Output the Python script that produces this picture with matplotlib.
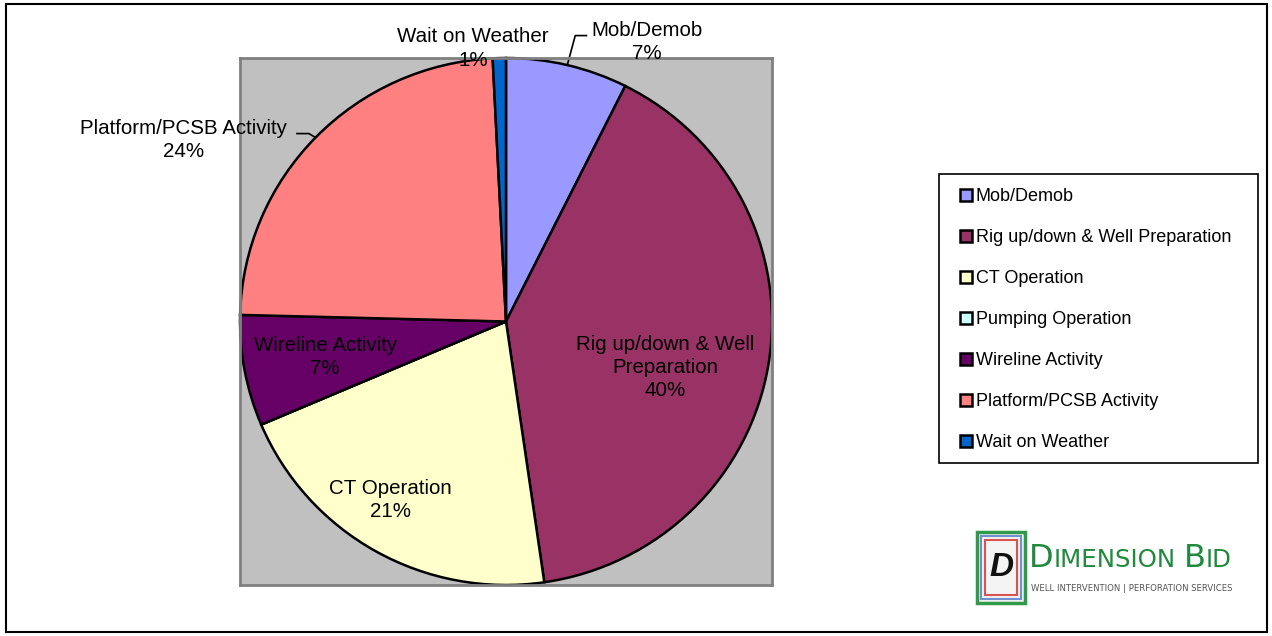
import matplotlib
matplotlib.use("Agg")
import matplotlib.pyplot as plt
import matplotlib.patches as patches
import numpy as np

plt.rcParams['font.family'] = ['Liberation Sans', 'DejaVu Sans']

# data
categories = ["Mob/Demob", "Rig up/down & Well Preparation", "CT Operation",
              "Pumping Operation", "Wireline Activity", "Platform/PCSB Activity",
              "Wait on Weather"]
values = [7.4, 40.3, 20.9, 0.0, 6.8, 23.8, 0.8]
colors = ["#9999FF", "#993366", "#FFFFCC", "#CCFFFF", "#660066", "#FF8080", "#0066CC"]
label_names = ["Mob/Demob", "Rig up/down & Well\nPreparation", "CT Operation",
               "", "Wireline Activity", "Platform/PCSB Activity", "Wait on Weather"]

W, H = 1272, 636
fig = plt.figure(figsize=(W / 100, H / 100), dpi=100)


def fx(px):
    return px / W


def fy(py):
    return 1 - py / H


# outer chart border
fig.patches.append(patches.Rectangle((fx(6), fy(632)), fx(1261), 628 / H,
                                     transform=fig.transFigure, fill=False,
                                     edgecolor="black", linewidth=1.5))

ax = fig.add_axes([fx(240), fy(585), fx(532), 527 / H])
wedges, _ = ax.pie(values, colors=colors, startangle=90, counterclock=False,
                   radius=1, wedgeprops=dict(edgecolor="black", linewidth=1.8))
ax.set_aspect("auto")
ax.set_xlim(-1, 1)
ax.set_ylim(-1, 1)
ax.set_frame_on(True)
ax.set_facecolor("#C0C0C0")
for sp in ax.spines.values():
    sp.set_color("#808080")
    sp.set_linewidth(2)
ax.set_xticks([])
ax.set_yticks([])

# data labels
label_pos = {0: (0.53, 1.06), 1: (0.598, -0.173), 2: (-0.436, -0.677),
             4: (-0.68, -0.135), 5: (-1.214, 0.689), 6: (-0.124, 1.036)}
total = sum(values)
for i, (x, y) in label_pos.items():
    pct = round(values[i] / total * 100)
    ax.text(x, y, f"{label_names[i]}\n{pct}%", ha="center", va="center",
            fontsize=14.8, multialignment="center", color="black",
            linespacing=1.27, clip_on=False, zorder=5)


# leader lines for outside labels
def edge_point(i):
    before = sum(values[:i])
    mid = before + values[i] / 2
    ang = np.deg2rad(90 - mid / total * 360)
    return np.cos(ang), np.sin(ang)


ex, ey = edge_point(0)
ax.plot([ex, ex + 0.03, ex + 0.072], [ey, ey + 0.112, ey + 0.112],
        color="black", lw=1.2, clip_on=False)
ex, ey = edge_point(5)
ax.plot([ex, ex - 0.025, ex - 0.07], [ey, ey + 0.015, ey + 0.015],
        color="black", lw=1.2, clip_on=False)

# legend (frame drawn separately)
fig.patches.append(patches.Rectangle((fx(939), fy(463)), 319 / W, 289 / H,
                                     transform=fig.transFigure, facecolor="white",
                                     edgecolor="black", linewidth=1.2))
handles = [patches.Patch(facecolor=c, edgecolor="black", linewidth=1.8) for c in colors]
leg = fig.legend(handles, categories, loc="upper left",
                 bbox_to_anchor=(fx(960), fy(188)),
                 fontsize=13, frameon=False,
                 handlelength=0.66, handleheight=0.66, handletextpad=0.2,
                 labelspacing=1.33, borderpad=0, borderaxespad=0)

# logo
fig.patches.append(patches.Rectangle((fx(977), fy(603)), 48 / W, 71 / H,
                                     transform=fig.transFigure, facecolor="#f4f4f4",
                                     edgecolor="#2e9a4a", linewidth=2.5))
fig.patches.append(patches.Rectangle((fx(981), fy(599)), 40 / W, 63 / H,
                                     transform=fig.transFigure, fill=False,
                                     edgecolor="#6f8fd0", linewidth=1.5))
fig.patches.append(patches.Rectangle((fx(985), fy(595)), 32 / W, 55 / H,
                                     transform=fig.transFigure, fill=False,
                                     edgecolor="#d9534f", linewidth=1.5))
fig.text(fx(1001), fy(568), "D", fontsize=24, fontweight="bold",
         fontstyle="italic", ha="center", va="center", color="#111111")

renderer = fig.canvas.get_renderer()
logo_parts = [("D", 30), ("IMENSION", 23), (" ", 23), ("B", 30), ("ID", 23)]
logo_texts = [fig.text(0, fy(567), s, fontsize=size, color="#1f8a3c",
                       ha="left", va="baseline", family="Liberation Sans Narrow")
              for s, size in logo_parts]
full = sum(t.get_window_extent(renderer).width for t in logo_texts)
scale = 203 / full
x = 1029
for t, (s, size) in zip(logo_texts, logo_parts):
    t.set_fontsize(size * scale)
    t.set_x(fx(x))
    x += t.get_window_extent(renderer).width

sub = fig.text(fx(1031), fy(591), "WELL INTERVENTION | PERFORATION SERVICES",
               fontsize=8, color="#555555", ha="left", va="baseline",
               family="Liberation Sans Narrow")
w = sub.get_window_extent(renderer).width
sub.set_fontsize(8 * 200 / w)

fig.savefig("out.png", dpi=100)
